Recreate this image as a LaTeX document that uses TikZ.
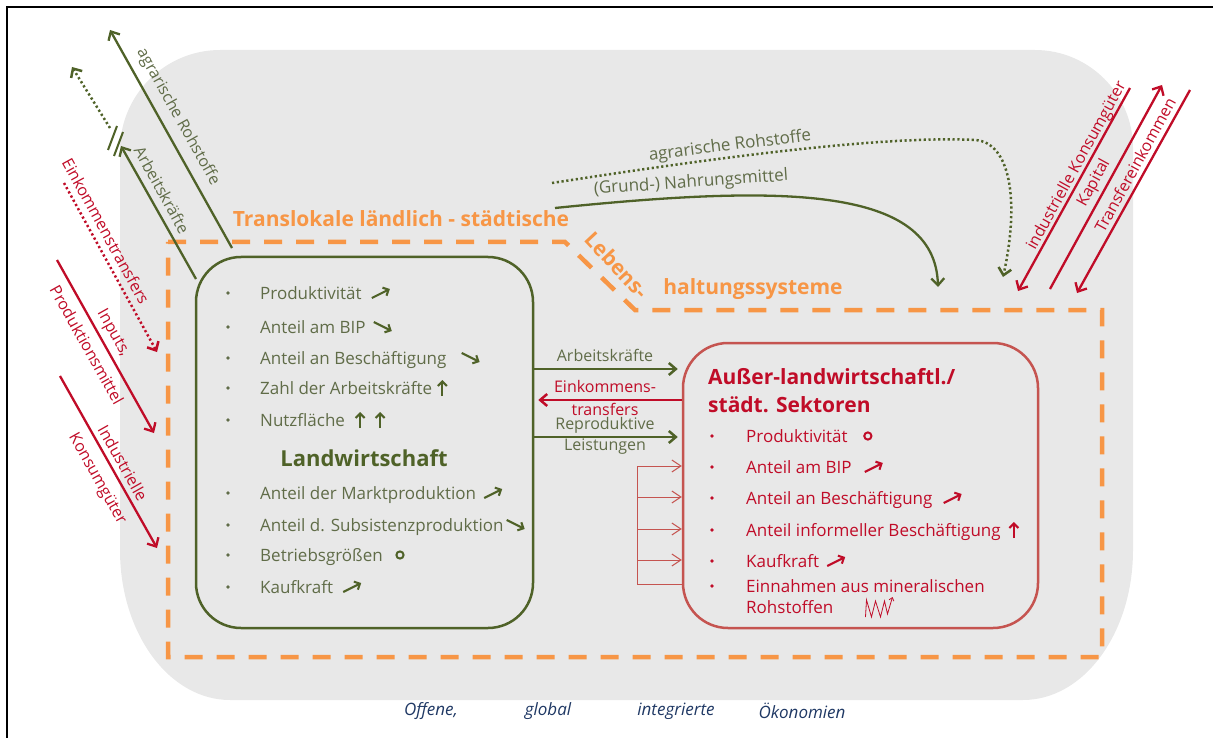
\documentclass[tikz,border=0pt]{standalone}
\usepackage{fontspec}
\setmainfont{Open Sans}
\usetikzlibrary{arrows.meta,calc}

\definecolor{lwgreen}{RGB}{79,98,40}
\definecolor{lwtext}{RGB}{96,108,72}
\definecolor{urbred}{RGB}{192,12,40}
\definecolor{urbbox}{RGB}{197,84,80}
\definecolor{orng}{RGB}{247,150,70}
\definecolor{panelgrey}{RGB}{232,232,232}
\definecolor{captionblue}{RGB}{31,56,100}

\newcommand\fsz[1]{\fontsize{#1}{#1}\selectfont}

% small trend symbols placed after a text node: colour, node, gap
\newcommand\riseAt[3]{\draw[trend,#1] ($(#2.east)+(#3,5)$) -- ++(18,-9);}
\newcommand\fallAt[3]{\draw[trend,#1] ($(#2.east)+(#3,-5)$) -- ++(18,9);}
\newcommand\upAt[3]{\draw[trend,#1] ($(#2.east)+(#3,8)$) -- ++(0,-16);}
\newcommand\ringAt[3]{\draw[#1,line width=2pt] ($(#2.east)+(#3,0)$) circle[radius=3.6pt];}

\begin{document}
\begin{tikzpicture}[x=1pt,y=-1pt,
  item/.style={anchor=west,inner sep=0pt,text height=12pt,text depth=0pt,font=\fsz{17}},
  gitem/.style={item,text=lwtext},
  ritem/.style={item,text=urbred},
  trend/.style={line width=2.1pt,-{Straight Barb[length=4.5pt,width=9pt]}},
  gdot/.style={fill=lwtext},
  rdot/.style={fill=urbred},
  glabel/.style={text=lwtext,font=\fsz{16},inner sep=0pt},
  rlabel/.style={text=urbred,font=\fsz{16},inner sep=0pt},
  midlabel/.style={font=\fsz{16},inner sep=0pt},
  gline/.style={draw=lwgreen,line width=2.3pt,-{Straight Barb[length=7pt,width=13pt]}},
  rline/.style={draw=urbred,line width=2.3pt,-{Straight Barb[length=7pt,width=13pt]}},
  dotline/.style={dash pattern=on 2.2pt off 2.6pt},
  bracket/.style={draw=urbbox,line width=1pt,-{Straight Barb[length=9pt,width=12pt]}},
  orhead/.style={text=orng,font=\bfseries\fsz{21},inner sep=0pt},
  caption/.style={text=captionblue,font=\itshape\fsz{17},inner sep=0pt}]

\useasboundingbox (0,0) rectangle (1213,738);

% outer frame
\draw[line width=2.5pt] (7,738) -- (7,7) -- (1213,7);

% grey panel of the open economies
\fill[panelgrey] (220,50) -- (1035,50) .. controls (1089,50) and (1133,94) .. (1133,148)
  -- (1133,550) .. controls (1133,633) and (1084,700) .. (1023,700)
  -- (230,700) .. controls (169,700) and (120,633) .. (120,550)
  -- (120,150) .. controls (120,95) and (165,50) .. (220,50) -- cycle;

% translocal livelihood systems
\draw[orng,line width=4.5pt,dash pattern=on 18pt off 14pt]
  (168,242) -- (565,242) -- (635,310) -- (1102,310) -- (1102,657) -- (168,657) -- cycle;
\node[orhead] (tl1) at (401,219) {Translokale ländlich - städtische};
\node[orhead,rotate=-47] (tl2) at (617,265) {Lebens-};
\node[orhead] (tl3) at (753,289) {haltungssysteme};

% the two sectors
\node[draw=lwgreen,line width=2.5pt,rounded corners=45pt,minimum width=337pt,minimum height=371pt,inner sep=0pt] (lw) at (364.5,442.5) {};
\node[draw=urbbox,line width=2.5pt,rounded corners=45pt,minimum width=355pt,minimum height=285pt,inner sep=0pt] (nl) at (860.5,485.5) {};

% agriculture
\foreach \yy in {293,327,358,388,420,493,525,555,587} \fill[gdot] (228,\yy) circle[radius=1.8pt];
\node[gitem] (g1) at (260,293) {Produktivität};
\node[gitem] (g2) at (260,327) {Anteil am BIP};
\node[gitem] (g3) at (260,358) {Anteil an Beschäftigung};
\node[gitem] (g4) at (260,388) {Zahl der Arbeitskräfte};
\node[gitem] (g5) at (260,420) {Nutzfläche};
\node[text=lwgreen,font=\bfseries\fsz{22},inner sep=0pt] (lwtitle) at (364,458) {Landwirtschaft};
\node[gitem] (g6) at (260,493) {Anteil der Marktproduktion};
\node[gitem] (g7) at (260,525) {Anteil d. Subsistenzproduktion};
\node[gitem] (g8) at (260,555) {Betriebsgrößen};
\node[gitem] (g9) at (260,587) {Kaufkraft};
\riseAt{lwgreen}{g1}{10}
\fallAt{lwgreen}{g2}{8}
\fallAt{lwgreen}{g3}{15}
\upAt{lwgreen}{g4}{10}
\upAt{lwgreen}{g5}{15}
\upAt{lwgreen}{g5}{35}
\riseAt{lwgreen}{g6}{8}
\fallAt{lwgreen}{g7}{3}
\ringAt{lwgreen}{g8}{17}
\riseAt{lwgreen}{g9}{10}

% non-agricultural / urban sectors
\node[text=urbred,font=\bfseries\fsz{21},inner sep=0pt,anchor=west] (nt1) at (708,377) {Außer-landwirtschaftl./};
\node[text=urbred,font=\bfseries\fsz{21},inner sep=0pt,anchor=west] (nt2) at (708,405) {städt. Sektoren};
\foreach \yy in {436,467,498,530,561,586} \fill[rdot] (712,\yy) circle[radius=1.8pt];
\node[ritem] (r1) at (746,436) {Produktivität};
\node[ritem] (r2) at (746,467) {Anteil am BIP};
\node[ritem] (r3) at (746,498) {Anteil an Beschäftigung};
\node[ritem] (r4) at (746,530) {Anteil informeller Beschäftigung};
\node[ritem] (r5) at (746,561) {Kaufkraft};
\node[ritem] (r6) at (746,586) {Einnahmen aus mineralischen};
\node[ritem] (r7) at (746,607) {Rohstoffen};
\ringAt{urbred}{r1}{20}
\riseAt{urbred}{r2}{13}
\riseAt{urbred}{r3}{11}
\upAt{urbred}{r4}{13}
\riseAt{urbred}{r5}{8}
\draw[urbred,line width=0.8pt,-{Straight Barb[length=3pt,width=5pt]}]
  ($(r7.east)+(32,10)$) -- ++(1,-17) -- ++(5,17) -- ++(4,-16) -- ++(5,16) -- ++(4,-16) -- ++(3,13) -- ++(5,-17);

% flows between the sectors
\coordinate (m1) at (533,369);
\coordinate (m2) at (533,400);
\coordinate (m3) at (533,437);
\draw[lwgreen,line width=2.5pt,shorten >=4pt,-{Straight Barb[length=7pt,width=12pt]}] (lw.east |- m1) -- (nl.west |- m1);
\draw[urbred,line width=2.5pt,shorten >=4pt,-{Straight Barb[length=7pt,width=12pt]}] (nl.west |- m2) -- (lw.east |- m2);
\draw[lwgreen,line width=2.5pt,shorten >=4pt,-{Straight Barb[length=7pt,width=12pt]}] (lw.east |- m3) -- (nl.west |- m3);
\node[midlabel,text=lwtext] (ml1) at (605,355) {Arbeitskräfte};
\node[midlabel,text=urbred] (ml2) at (605,386) {Einkommens-};
\node[midlabel,text=urbred] (ml3) at (605,409) {transfers};
\node[midlabel,text=lwtext] (ml4) at (605,425) {Reproduktive};
\node[midlabel,text=lwtext] (ml5) at (605,447) {Leistungen};

% linkages inside the urban sectors
\coordinate (b1) at (637,466);
\coordinate (b2) at (637,497);
\coordinate (b3) at (637,529);
\coordinate (b4) at (637,560);
\coordinate (b5) at (637,584);
\draw[urbbox,line width=1pt] (b1) -- (b5) -- (nl.west |- b5);
\foreach \b in {b1,b2,b3,b4} \draw[bracket] (\b) -- (nl.west |- \b);

% flows from the countryside to the towns
\coordinate (n1) at (555,208);
\coordinate (n2) at (938,287);
\draw[gline,line width=2.3pt] (n1) .. controls (780,185) and (935,185) .. (n2);
\node[glabel,font=\fsz{17},rotate=4] (nlab) at (691,183) {(Grund-) Nahrungsmittel};
\coordinate (k1) at (552,183);
\coordinate (k2) at (1003,277);
\draw[gline,dotline,line width=2.5pt] (k1) .. controls (700,160) and (880,135) .. (975,140)
  .. controls (1010,142) and (1020,200) .. (k2);
\node[glabel,font=\fsz{17},rotate=7] (klab) at (730,146) {agrarische Rohstoffe};

% exchanges of the agricultural sector with the outside
\coordinate (e1s) at (232,248);
\coordinate (e1e) at (110,30);
\draw[gline] (e1s) -- (e1e);
\node[glabel,rotate=-60.8] (e1l) at (178,117) {agrarische Rohstoffe};
\coordinate (e2s) at (196,279);
\coordinate (e2e) at (121,146);
\draw[gline] (e2s) -- (e2e);
\node[glabel,rotate=-61] (e2l) at (162,190) {Arbeitskräfte};
\draw[lwgreen,line width=2pt] (108,150) -- (117,126);
\draw[lwgreen,line width=2pt] (114,156) -- (123,132);
\coordinate (e3s) at (110,128);
\coordinate (e3e) at (72,67);
\draw[gline,dotline,line width=2.5pt] (e3s) -- (e3e);

\coordinate (e4s) at (64,183);
\coordinate (e4e) at (157,352);
\draw[rline,dotline,line width=2.5pt] (e4s) -- (e4e);
\node[rlabel,rotate=-61.2] (e4l) at (106,231) {Einkommenstransfers};
\coordinate (e5s) at (57,260);
\coordinate (e5e) at (154,433);
\draw[rline] (e5s) -- (e5e);
\node[rlabel,rotate=-60.7] (e5a) at (113,333) {Inputs,};
\node[rlabel,rotate=-60.7] (e5b) at (87,345) {Produktionsmittel};
\coordinate (e6s) at (60,376);
\coordinate (e6e) at (157,548);
\draw[rline] (e6s) -- (e6e);
\node[rlabel,rotate=-60.6] (e6a) at (123,463) {Industrielle};
\node[rlabel,rotate=-60.6] (e6b) at (97,479) {Konsumgüter};

% exchanges of the urban sectors with the outside
\coordinate (u1s) at (1130,88);
\coordinate (u1e) at (1018,291);
\draw[rline] (u1s) -- (u1e);
\node[rlabel,rotate=61.2] (u1l) at (1077,166) {industrielle Konsumgüter};
\coordinate (u2s) at (1050,289);
\coordinate (u2e) at (1162,85);
\draw[rline] (u2s) -- (u2e);
\node[rlabel,rotate=61.2] (u2l) at (1094,183) {Kapital};
\coordinate (u3s) at (1190,90);
\coordinate (u3e) at (1077,293);
\draw[rline] (u3s) -- (u3e);
\node[rlabel,rotate=61.2] (u3l) at (1135,165) {Transfereinkommen};

% caption
\node[caption] (c1) at (431,711) {Offene,};
\node[caption] (c2) at (548,711) {global};
\node[caption] (c3) at (676,711) {integrierte};
\node[caption] (c4) at (802,711) {Ökonomien};
\end{tikzpicture}
\end{document}
